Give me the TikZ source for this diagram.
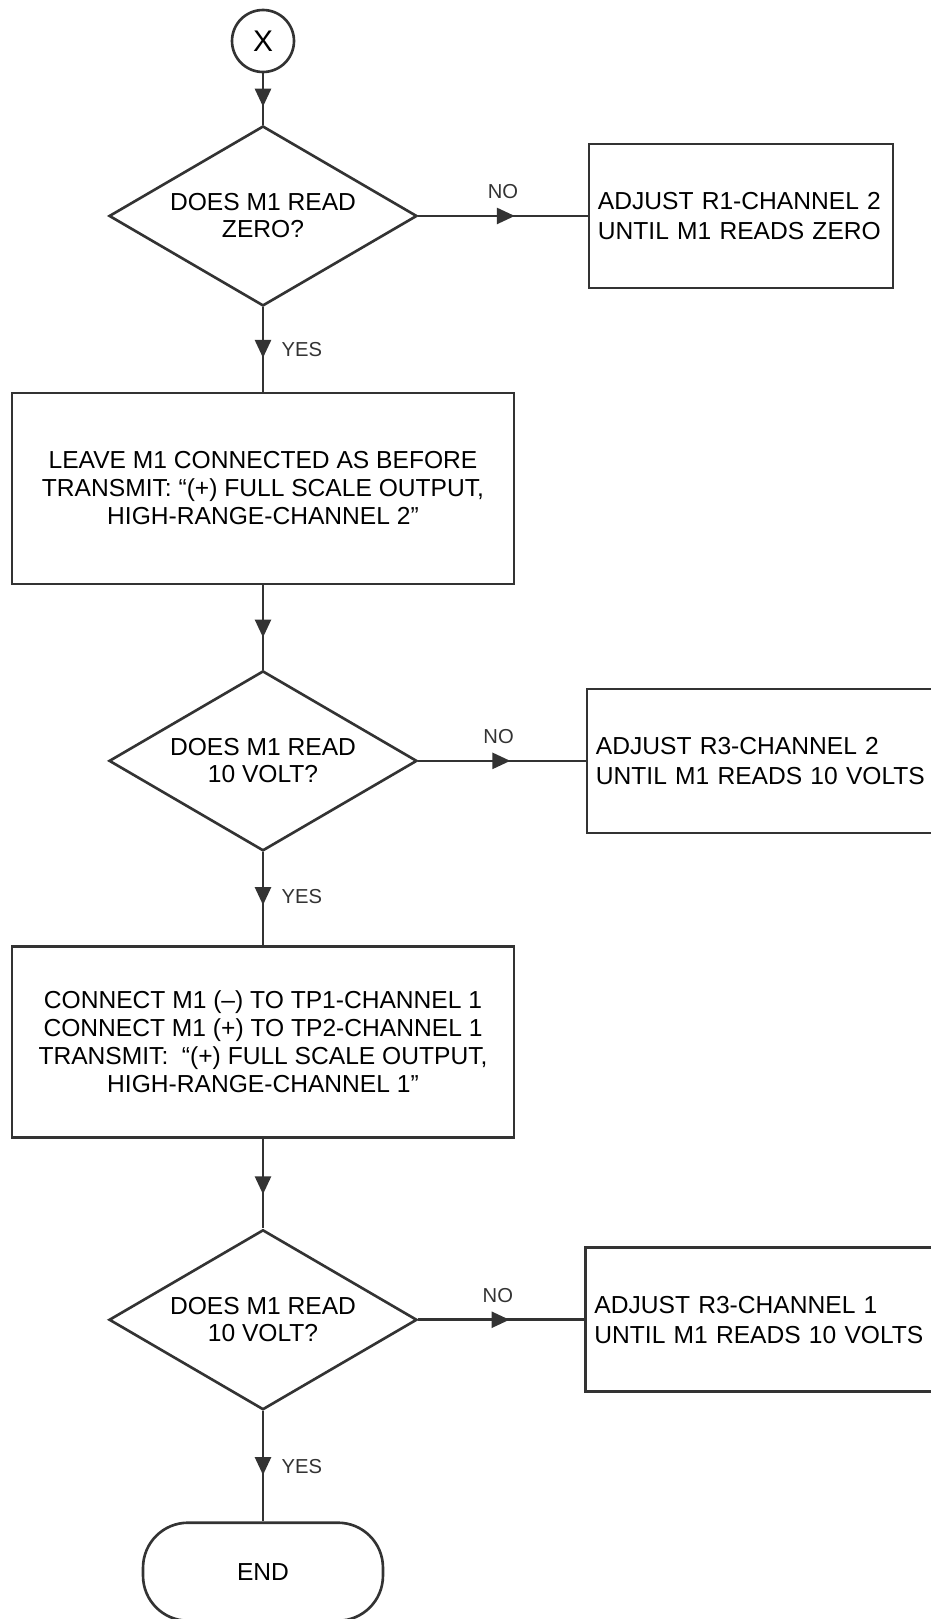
\documentclass[tikz,border=0pt]{standalone}
\usepackage{fontspec}
\setmainfont{Liberation Sans}
\usetikzlibrary{shapes,arrows.meta,decorations.markings,positioning}

\colorlet{ink}{black!80}

\tikzset{
  connector/.style={circle, draw=ink, line width=1.5pt, minimum size=1.24cm, inner sep=0pt, font=\fontsize{17}{17}\selectfont},
  decision/.style={diamond, aspect=1.7, draw=ink, line width=1.5pt, minimum width=6.16cm, minimum height=3.6cm, inner sep=0pt, align=center, font=\fontsize{14}{15.4}\selectfont},
  process/.style={rectangle, draw=ink, line width=1.5pt, minimum width=10.04cm, minimum height=3.82cm, align=center, font=\fontsize{14}{16}\selectfont},
  adjust/.style={rectangle, draw=ink, line width=1.5pt, minimum height=2.88cm, inner xsep=0.18cm, text width=#1, align=left, font=\fontsize{14}{17}\selectfont},
  terminal/.style={rectangle, rounded corners=0.9cm, draw=ink, line width=1.5pt, minimum width=4.8cm, minimum height=1.96cm, font=\fontsize{14}{16}\selectfont},
  flow/.style={draw=ink, line width=1.5pt, postaction={decorate}, decoration={markings, mark=at position #1 with {\arrow[ink]{Triangle[length=0.36cm,width=0.32cm]}}}},
  flow/.default=0.6,
  lbl/.style={font=\fontsize{11.5}{11.5}\selectfont, text=ink}
}

\begin{document}
\begin{tikzpicture}[x=0.02cm, y=-0.02cm, node distance=1.5cm, auto]
    \useasboundingbox (0,0) rectangle (930,1619);

    \node (start) [connector] at (263,41) {X};
    \node (d1) [decision, below of=start, node distance=3.5cm] {DOES M1 READ\\ZERO?};
    \node (r1) [adjust=5.72cm, right of=d1, node distance=9.56cm] {ADJUST R1-CHANNEL 2\\UNTIL M1 READS ZERO};
    \node (leave) [process, below of=d1, node distance=5.45cm] {LEAVE M1 CONNECTED AS BEFORE\\TRANSMIT: ``(+) FULL SCALE OUTPUT,\\HIGH-RANGE-CHANNEL 2''};
    \node (d2) [decision, below of=leave, node distance=5.45cm] {DOES M1 READ\\10 VOLT?};
    \node (r2) [adjust=6.84cm, right of=d2, node distance=10.08cm] {ADJUST R3-CHANNEL 2\\UNTIL M1 READS 10 VOLTS};
    \node (connect) [process, below of=d2, node distance=5.62cm] {CONNECT M1 (--) TO TP1-CHANNEL 1\\CONNECT M1 (+) TO TP2-CHANNEL 1\\TRANSMIT:\ \ ``(+) FULL SCALE OUTPUT,\\HIGH-RANGE-CHANNEL 1''};
    \node (d3) [decision, below of=connect, node distance=5.56cm] {DOES M1 READ\\10 VOLT?};
    \node (r3) [adjust=6.84cm, right of=d3, node distance=10.05cm] {ADJUST R3-CHANNEL 1\\UNTIL M1 READS 10 VOLTS};
    \node (end) [terminal, below of=d3, node distance=5.04cm] {END};

    \path (start) edge[flow=0.65] (d1);
    \path (d1) edge[flow=0.6] node[lbl, pos=0.5, right=0.23cm] {YES} (leave);
    \path (d1) edge[flow=0.57] node[lbl, pos=0.5, above=0.2cm] {NO} (r1);
    \path (leave) edge[flow=0.62] (d2);
    \path (d2) edge[flow=0.57] node[lbl, pos=0.48, right=0.23cm] {YES} (connect);
    \path (d2) edge[flow=0.55] node[lbl, pos=0.48, above=0.2cm] {NO} (r2);
    \path (connect) edge[flow=0.62] (d3);
    \path (d3) edge[flow=0.58] node[lbl, pos=0.5, right=0.23cm] {YES} (end);
    \path (d3) edge[flow=0.55] node[lbl, pos=0.48, above=0.2cm] {NO} (r3);
\end{tikzpicture}
\end{document}
